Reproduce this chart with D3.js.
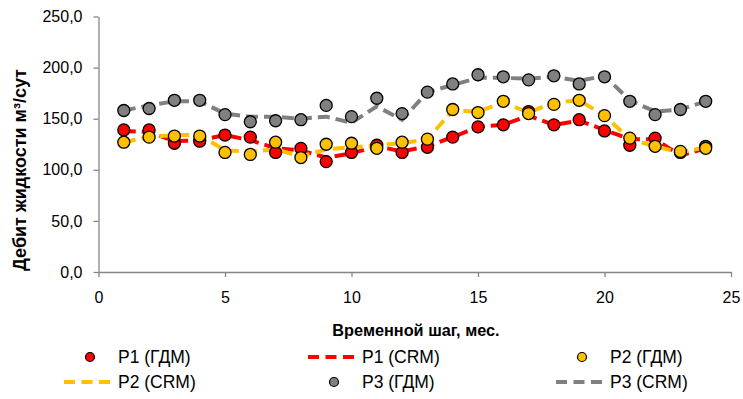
<!DOCTYPE html>
<html>
<head>
<meta charset="utf-8">
<script src="https://cdn.jsdelivr.net/npm/d3@7"></script>
<style>
  body { margin: 0; background: #fff; }
  text { font-family: "Liberation Sans", Arial, sans-serif; }
</style>
</head>
<body>
<svg id="chart" width="743" height="399"></svg>
<script>
// data
var months = [1,2,3,4,5,6,7,8,9,10,11,12,13,14,15,16,17,18,19,20,21,22,23,24];
var p1Gdm = [139,139,126,128,134,132,117,121,108,117,124,117,122,132,142,144,157,144,149,138,124,131,117,123];
var p1Crm = [138,137,128,129,134,129,121,119,112,116,123,118,123,132,142,144,153,144,148,139,130,130,114,121];
var p2Gdm = [127,132,133,133,117,115,127,112,125,126,121,127,130,159,156,167,155,164,168,153,131,123,118,121];
var p2Crm = [127,132,134,134,119,118,120,113,120,122,124,126,130,158,157,166,156,166,168,153,130,123,117,122];
var p3Gdm = [158,160,168,168,154,147,148,149,163,152,170,155,176,184,193,191,188,192,184,191,167,154,159,167];
var p3Crm = [158,163,167,167,155,152,152,150,152,146,162,149,176,183,190,190,189,191,187,192,168,157,159,167];
var xTicks = [0,5,10,15,20,25];
var yTicks = [0,50,100,150,200,250];

var series = [
  {name: "P1 (ГДМ)", values: p1Gdm, color: "#FF0000", type: "marker"},
  {name: "P1 (CRM)", values: p1Crm, color: "#FF0000", type: "line"},
  {name: "P2 (ГДМ)", values: p2Gdm, color: "#FFC000", type: "marker"},
  {name: "P2 (CRM)", values: p2Crm, color: "#FFC000", type: "line"},
  {name: "P3 (ГДМ)", values: p3Gdm, color: "#808080", type: "marker"},
  {name: "P3 (CRM)", values: p3Crm, color: "#808080", type: "line"}
];

var svg = d3.select("#chart");

var x = d3.scaleLinear().domain([0, 25]).range([98.5, 731]);
var y = d3.scaleLinear().domain([0, 250]).range([272, 16.5]);

var commaFmt = function(d) { return d3.format(".1f")(d).replace(".", ","); };

// axes
var gx = svg.append("g")
    .attr("transform", "translate(0," + y(0) + ")")
    .call(d3.axisBottom(x).tickValues(xTicks).tickSize(5).tickSizeOuter(0).tickPadding(15));
var gy = svg.append("g")
    .attr("transform", "translate(" + x(0) + ",0)")
    .call(d3.axisLeft(y).tickValues(yTicks).tickFormat(commaFmt).tickSize(5).tickSizeOuter(0).tickPadding(11));

[gx, gy].forEach(function(g) {
  g.selectAll("path, line").attr("stroke", "#868686").attr("stroke-width", 1.3);
  g.selectAll("text").attr("fill", "#000").style("font-size", "16px")
    .style("font-family", "'Liberation Sans', Arial, sans-serif");
});

// axis titles
svg.append("text")
    .attr("x", 416).attr("y", 336)
    .attr("text-anchor", "middle")
    .style("font-size", "16.3px").style("font-weight", "bold")
    .text("Временной шаг, мес.");

svg.append("text")
    .attr("transform", "translate(26,170) rotate(-90)")
    .attr("text-anchor", "middle")
    .style("font-size", "18px").style("font-weight", "bold")
    .text("Дебит жидкости м³/сут");

// dashed CRM lines first, markers on top
var line = d3.line()
    .x(function(d, i) { return x(months[i]); })
    .y(function(d) { return y(d); });

series.filter(function(s) { return s.type === "line"; }).forEach(function(s) {
  svg.append("path")
      .datum(s.values)
      .attr("d", line)
      .attr("fill", "none")
      .attr("stroke", s.color)
      .attr("stroke-width", 4)
      .attr("stroke-dasharray", "12,6");
});

series.filter(function(s) { return s.type === "marker"; }).forEach(function(s) {
  svg.append("g").selectAll("circle")
      .data(s.values)
    .enter().append("circle")
      .attr("cx", function(d, i) { return x(months[i]); })
      .attr("cy", function(d) { return y(d); })
      .attr("r", 6)
      .attr("fill", s.color)
      .attr("stroke", "#000")
      .attr("stroke-width", 1.3);
});

// legend: 3 columns, 2 rows
var legendCols = [64, 308, 556];
var legendRows = [357, 382];
var legend = svg.append("g").selectAll("g")
    .data(series)
  .enter().append("g")
    .attr("transform", function(d, i) {
      return "translate(" + legendCols[i % 3] + "," + legendRows[Math.floor(i / 3)] + ")";
    });

legend.filter(function(d) { return d.type === "marker"; }).append("circle")
    .attr("cx", 26).attr("cy", 0).attr("r", 4.5)
    .attr("fill", function(d) { return d.color; })
    .attr("stroke", "#000").attr("stroke-width", 1.2);

legend.filter(function(d) { return d.type === "line"; }).append("line")
    .attr("x1", 0).attr("x2", 46).attr("y1", 0).attr("y2", 0)
    .attr("stroke", function(d) { return d.color; })
    .attr("stroke-width", 4)
    .attr("stroke-dasharray", "11,6.5");

legend.append("text")
    .attr("x", 54).attr("y", 0).attr("dy", "0.35em")
    .style("font-size", "17.5px")
    .text(function(d) { return d.name; });
</script>
</body>
</html>
